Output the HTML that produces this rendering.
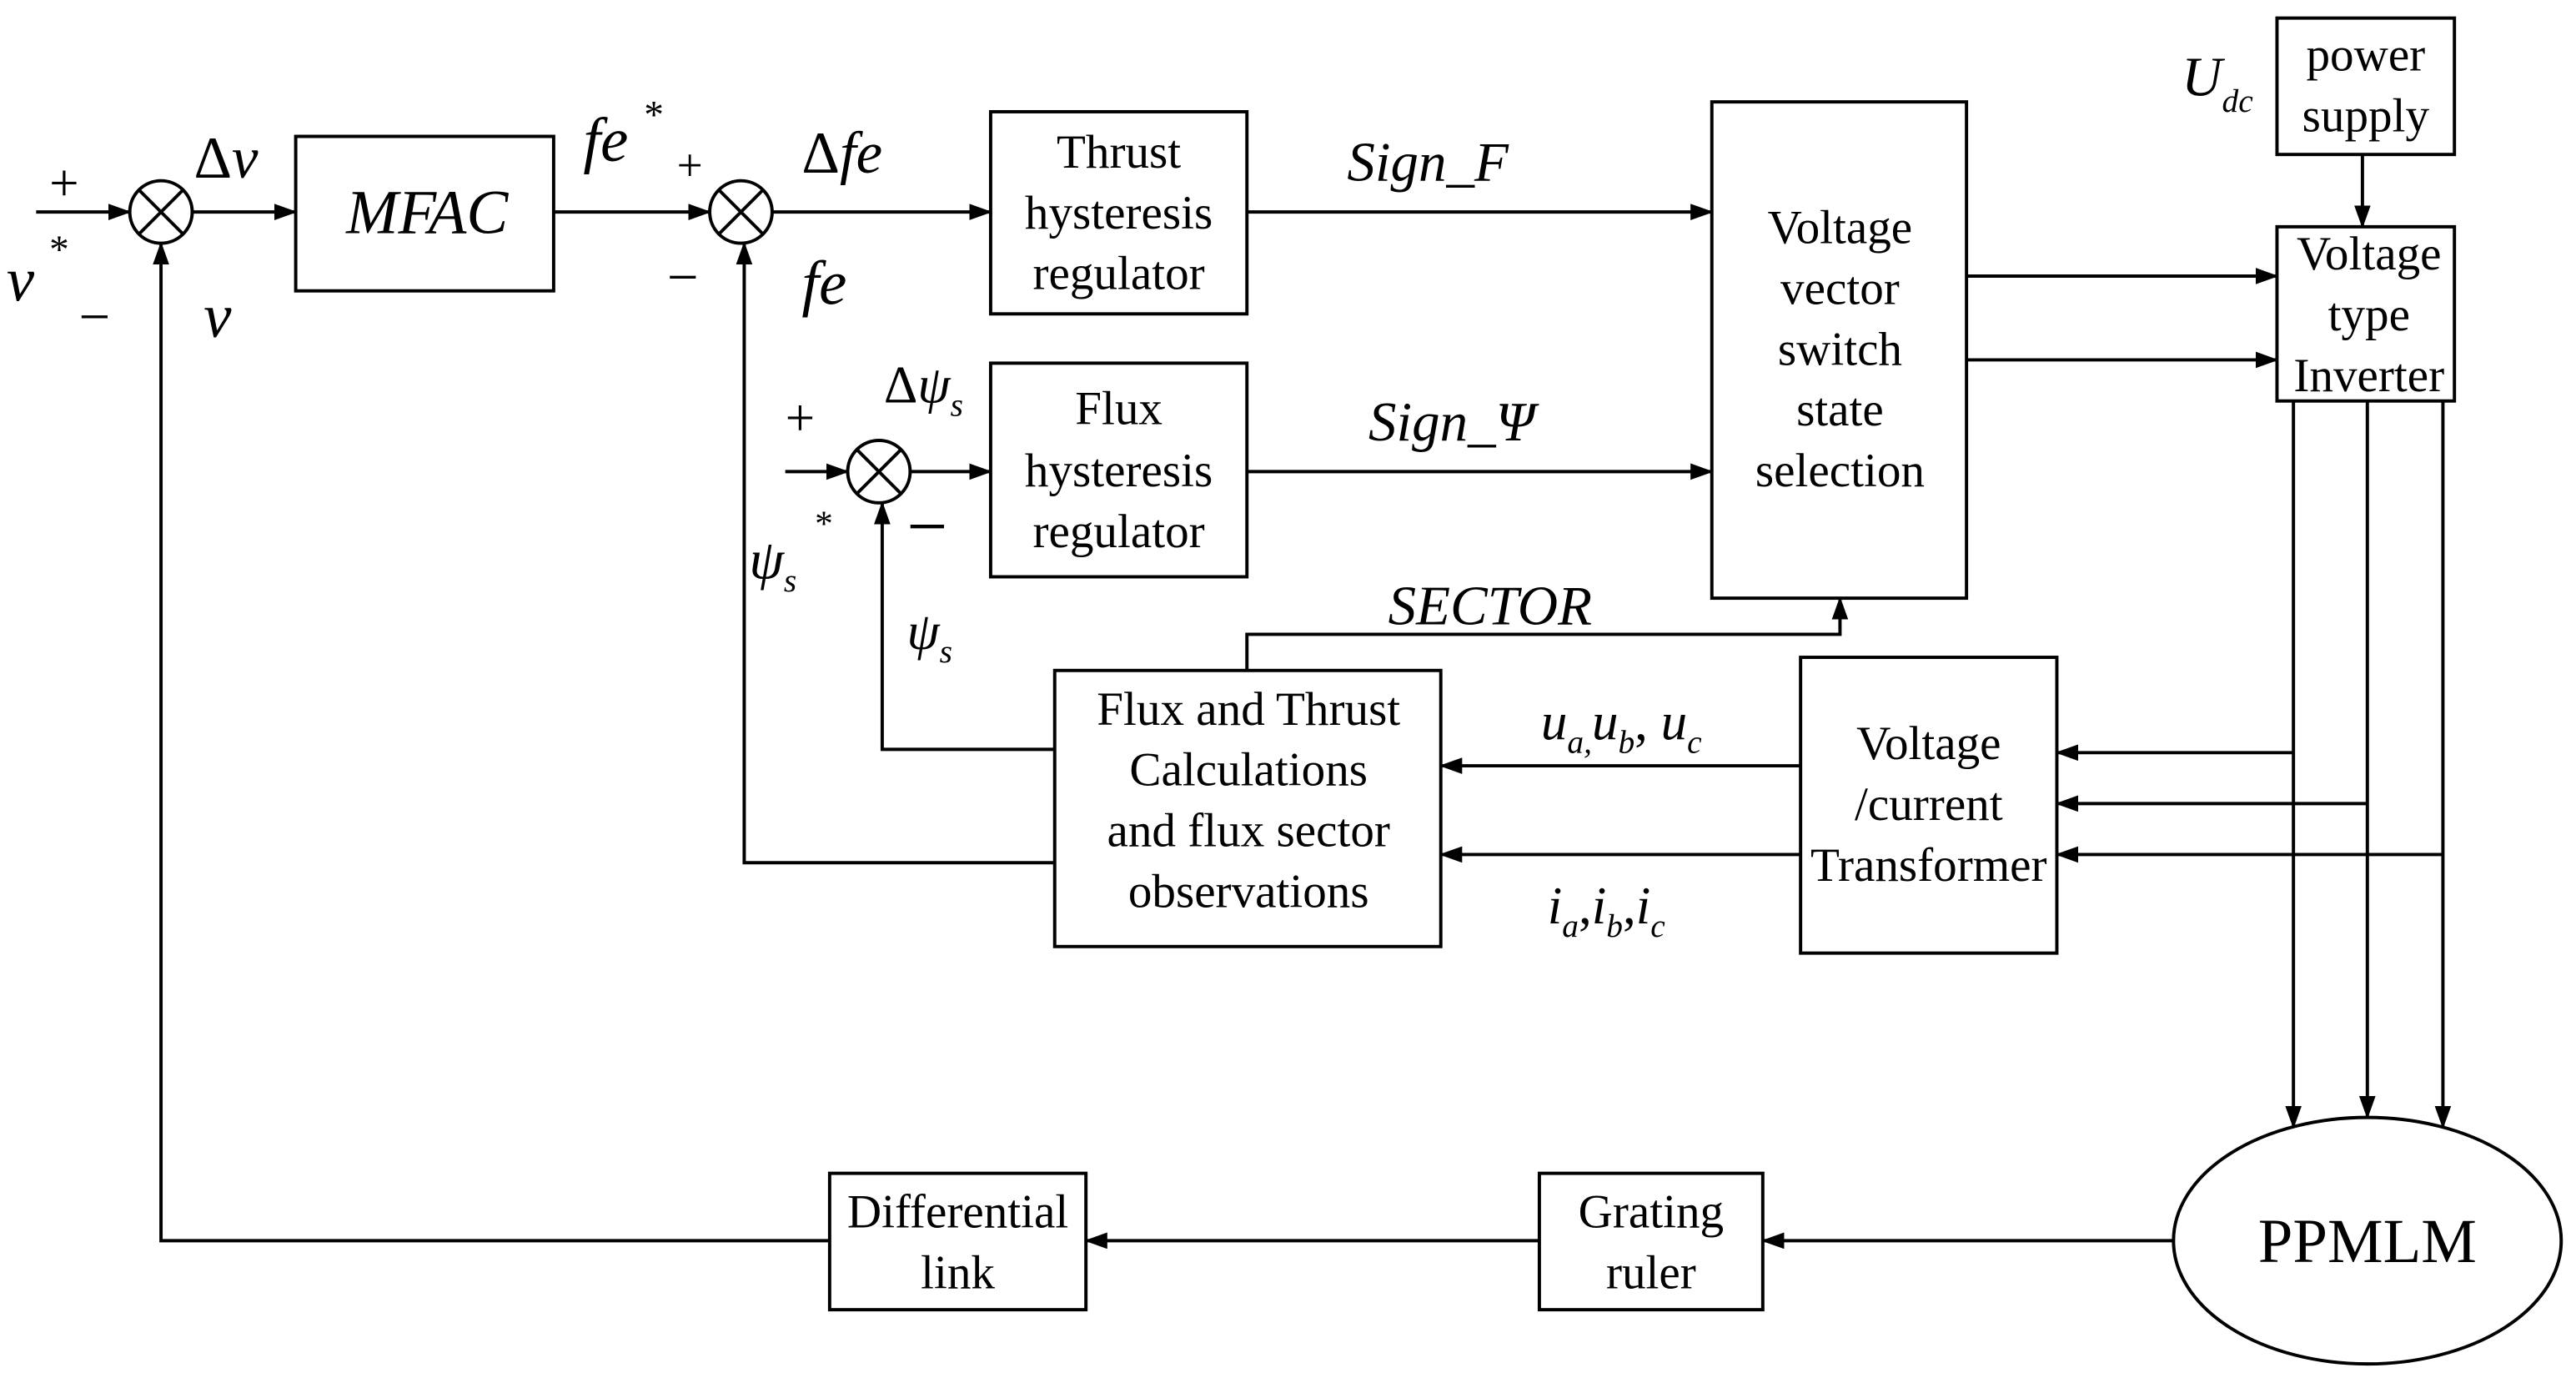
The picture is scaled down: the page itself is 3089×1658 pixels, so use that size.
<!DOCTYPE html>
<html><head><meta charset="utf-8"><style>
html,body{margin:0;padding:0;background:#fff;}
svg{display:block;}
text{font-family:"Liberation Serif",serif;fill:#000;}
.b{font-size:29px;text-anchor:middle;}
.i{font-style:italic;}
</style></head><body>
<svg width="3089" height="1658" viewBox="0 0 1568 841.6" preserveAspectRatio="none" xmlns="http://www.w3.org/2000/svg">
<defs><marker id="a" markerWidth="14" markerHeight="10" refX="13" refY="5" orient="auto" markerUnits="userSpaceOnUse"><path d="M0,0 L14,5 L0,10 z" fill="#000"/></marker></defs>
<g stroke="#000" stroke-width="2" fill="none">
<rect x="180" y="83" width="157" height="94"/>
<rect x="603" y="68" width="156" height="123"/>
<rect x="603" y="221" width="156" height="130"/>
<rect x="1042" y="62" width="155" height="302"/>
<rect x="1386" y="11" width="108" height="83"/>
<rect x="1386" y="138" width="108" height="106"/>
<rect x="642" y="408" width="235" height="168"/>
<rect x="1096" y="400" width="156" height="180"/>
<rect x="937" y="714" width="136" height="83"/>
<rect x="505" y="714" width="156" height="83"/>
<ellipse cx="1441" cy="755" rx="118" ry="75"/>
<circle cx="98" cy="129" r="19"/><path d="M85,116 L111,142 M111,116 L85,142"/>
<circle cx="451" cy="129" r="19"/><path d="M438,116 L464,142 M464,116 L438,142"/>
<circle cx="535" cy="287" r="19"/><path d="M522,274 L548,300 M548,274 L522,300"/>
<g marker-end="url(#a)">
<path d="M22,129 H79"/>
<path d="M117,129 H180"/>
<path d="M337,129 H432"/>
<path d="M470,129 H603"/>
<path d="M759,129 H1042"/>
<path d="M759,287 H1042"/>
<path d="M478,287 H516"/>
<path d="M554,287 H603"/>
<path d="M1197,168 H1386"/>
<path d="M1197,219 H1386"/>
<path d="M1438,94 V138"/>
<path d="M1396,244 V686"/>
<path d="M1441,244 V680"/>
<path d="M1487,244 V686"/>
<path d="M1396,458 H1252"/>
<path d="M1441,489 H1252"/>
<path d="M1487,520 H1252"/>
<path d="M1096,466 H877"/>
<path d="M1096,520 H877"/>
<path d="M642,456 H537 V306"/>
<path d="M642,525 H453 V148"/>
<path d="M759,408 V386 H1120 V364"/>
<path d="M1323,755 H1073"/>
<path d="M937,755 H661"/>
<path d="M505,755 H98 V148"/>
</g>
</g>
<text x="260" y="142" class="b i" style="font-size:38px">MFAC</text>
<text x="681" y="102" class="b">Thrust</text>
<text x="681" y="139" class="b">hysteresis</text>
<text x="681" y="176" class="b">regulator</text>
<text x="681" y="258" class="b">Flux</text>
<text x="681" y="296" class="b">hysteresis</text>
<text x="681" y="333" class="b">regulator</text>
<text x="1120" y="148" class="b">Voltage</text>
<text x="1120" y="185" class="b">vector</text>
<text x="1120" y="222" class="b">switch</text>
<text x="1120" y="259" class="b">state</text>
<text x="1120" y="296" class="b">selection</text>
<text x="1440" y="43" class="b">power</text>
<text x="1440" y="80" class="b">supply</text>
<text x="1442" y="164" class="b">Voltage</text>
<text x="1442" y="201" class="b">type</text>
<text x="1442" y="238" class="b">Inverter</text>
<text x="760" y="441" class="b">Flux and Thrust</text>
<text x="760" y="478" class="b">Calculations</text>
<text x="760" y="515" class="b">and flux sector</text>
<text x="760" y="552" class="b">observations</text>
<text x="1174" y="462" class="b">Voltage</text>
<text x="1174" y="499" class="b">/current</text>
<text x="1174" y="536" class="b">Transformer</text>
<text x="1005" y="747" class="b">Grating</text>
<text x="1005" y="784" class="b">ruler</text>
<text x="583" y="747" class="b">Differential</text>
<text x="583" y="784" class="b">link</text>
<text x="1441" y="768" class="b" style="font-size:38px">PPMLM</text>
<text x="30" y="122" font-size="32">+</text>
<text x="4" y="183" font-size="38" class="i">v</text><text x="30" y="160" font-size="24">*</text>
<text x="48" y="204" font-size="34">−</text>
<text x="118" y="108" font-size="36">Δ<tspan class="i">v</tspan></text>
<text x="124" y="205" font-size="38" class="i">v</text>
<text x="355" y="98" font-size="38" class="i">fe</text><text x="392" y="78" font-size="24">*</text>
<text x="412" y="110" font-size="28">+</text>
<text x="406" y="180" font-size="34">−</text>
<text x="488" y="105" font-size="36">Δ<tspan class="i">fe</tspan></text>
<text x="488" y="185" font-size="38" class="i">fe</text>
<text x="820" y="110" font-size="34" class="i">Sign_F</text>
<text x="833" y="268" font-size="34" class="i">Sign_Ψ</text>
<text x="845" y="380" font-size="34" class="i">SECTOR</text>
<text x="478" y="265" font-size="32">+</text>
<text x="552" y="335" font-size="44">−</text>
<text x="538" y="245" font-size="32">Δ<tspan class="i">ψ</tspan><tspan font-size="20" class="i" dy="8">s</tspan></text>
<text x="456" y="352" font-size="34" class="i">ψ<tspan font-size="20" dy="8">s</tspan></text><text x="496" y="326" font-size="22">*</text>
<text x="552" y="395" font-size="32" class="i">ψ<tspan font-size="20" dy="8">s</tspan></text>
<text x="938" y="450" font-size="32" class="i">u<tspan font-size="20" dy="8">a,</tspan><tspan dy="-8">u</tspan><tspan font-size="20" dy="8">b</tspan><tspan dy="-8" font-style="normal">, </tspan><tspan>u</tspan><tspan font-size="20" dy="8">c</tspan></text>
<text x="942" y="562" font-size="32" class="i">i<tspan font-size="20" dy="8">a</tspan><tspan dy="-8" font-style="normal">,</tspan>i<tspan font-size="20" dy="8">b</tspan><tspan dy="-8" font-style="normal">,</tspan>i<tspan font-size="20" dy="8">c</tspan></text>
<text x="1328" y="58" font-size="34" class="i">U<tspan font-size="20" dy="10">dc</tspan></text>
</svg>
</body></html>
